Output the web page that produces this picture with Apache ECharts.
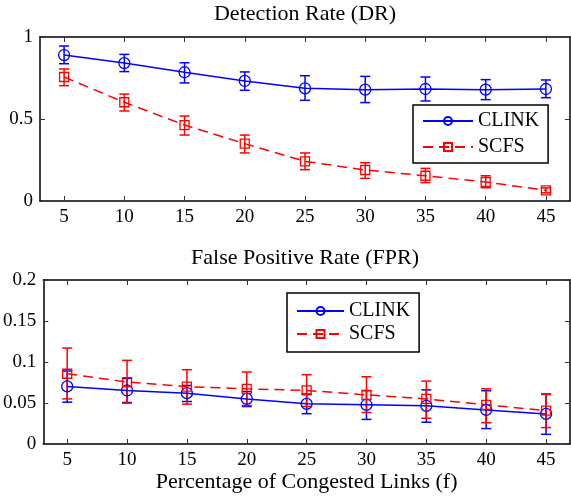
<!DOCTYPE html>
<html>
<head>
  <meta charset="utf-8" />
  <title>DR / FPR</title>
  <script src="https://cdn.jsdelivr.net/npm/echarts@6/dist/echarts.min.js"></script>
  <style>
    html, body { margin: 0; padding: 0; background: #fff; }
  </style>
</head>
<body>
<div id="main" style="width: 571px;height:500px;"></div>
<script type="text/javascript">
  // x positions (percentage of congested links)
  var xValues = [5, 10, 15, 20, 25, 30, 35, 40, 45];
  var xTicks = [5, 10, 15, 20, 25, 30, 35, 40, 45];

  // detection rate
  var drClink = [0.89, 0.841, 0.785, 0.732, 0.687, 0.679, 0.683, 0.679, 0.683];
  var drClinkLo = [0.837, 0.789, 0.72, 0.675, 0.614, 0.6, 0.61, 0.618, 0.63];
  var drClinkHi = [0.945, 0.894, 0.843, 0.787, 0.764, 0.76, 0.756, 0.74, 0.738];
  var drScfs = [0.756, 0.602, 0.463, 0.35, 0.242, 0.189, 0.154, 0.116, 0.065];
  var drScfsLo = [0.703, 0.549, 0.402, 0.293, 0.191, 0.138, 0.112, 0.081, 0.05];
  var drScfsHi = [0.805, 0.652, 0.518, 0.402, 0.293, 0.234, 0.199, 0.154, 0.08];

  // false positive rate
  var fprClink = [0.0702, 0.0653, 0.062, 0.055, 0.049, 0.0478, 0.0465, 0.0416, 0.0367];
  var fprClinkLo = [0.051, 0.0506, 0.0518, 0.0457, 0.037, 0.030, 0.0265, 0.0188, 0.0118];
  var fprClinkHi = [0.089, 0.080, 0.0714, 0.064, 0.061, 0.065, 0.066, 0.065, 0.061];
  var fprScfs = [0.0857, 0.0755, 0.070, 0.0673, 0.0653, 0.060, 0.055, 0.0478, 0.0408];
  var fprScfsLo = [0.055, 0.0498, 0.0486, 0.047, 0.0457, 0.0384, 0.0314, 0.026, 0.02];
  var fprScfsHi = [0.117, 0.102, 0.0906, 0.0878, 0.0845, 0.082, 0.0767, 0.0673, 0.0604];

  var FONT = 'Liberation Serif';
  var BLUE = '#0000ff';
  var RED = '#ff0000';

  function pairs(ys) {
    return xValues.map(function (x, i) { return [x, ys[i]]; });
  }
  function bars(lo, hi) {
    return xValues.map(function (x, i) { return [x, lo[i], hi[i]]; });
  }

  // error bars drawn with the axes' own coord()
  function errorSeries(name, idx, lo, hi, color) {
    return {
      name: name + ' err',
      type: 'custom',
      xAxisIndex: idx,
      yAxisIndex: idx,
      data: bars(lo, hi),
      encode: { x: 0, y: [1, 2] },
      silent: true,
      renderItem: function (params, api) {
        var x = api.value(0);
        var a = api.coord([x, api.value(1)]);
        var b = api.coord([x, api.value(2)]);
        var w = 5;
        var st = { stroke: color, lineWidth: 1.5, fill: null };
        return {
          type: 'group',
          children: [
            { type: 'line', shape: { x1: a[0], y1: a[1], x2: b[0], y2: b[1] }, style: st },
            { type: 'line', shape: { x1: a[0] - w, y1: a[1], x2: a[0] + w, y2: a[1] }, style: st },
            { type: 'line', shape: { x1: b[0] - w, y1: b[1], x2: b[0] + w, y2: b[1] }, style: st }
          ]
        };
      }
    };
  }

  function lineSeries(name, idx, ys, color, symbol, size, dashed) {
    return {
      name: name,
      type: 'line',
      xAxisIndex: idx,
      yAxisIndex: idx,
      data: pairs(ys),
      symbol: symbol,
      symbolSize: size,
      showAllSymbol: true,
      color: color,
      lineStyle: { color: color, width: 1.5, type: dashed ? [10, 6] : 'solid' },
      itemStyle: { color: 'rgba(0,0,0,0)', borderColor: color, borderWidth: 1.3 },
      emphasis: { disabled: true },
      z: 3
    };
  }

  function xAxisPair(grid) {
    var base = {
      type: 'value', gridIndex: grid, min: 3, max: 47,
      splitLine: { show: false },
      axisLine: { show: true, onZero: false, lineStyle: { color: '#000', width: 1.5 } },
      axisTick: { show: true, inside: true, length: 5, customValues: xTicks, lineStyle: { color: '#333', width: 1 } }
    };
    var bottom = Object.assign({}, base, {
      position: 'bottom',
      axisLabel: { show: true, customValues: xTicks, margin: 7, color: '#000', fontFamily: FONT, fontSize: 19 }
    });
    var top = Object.assign({}, base, {
      position: 'top',
      axisLabel: { show: false }
    });
    return [bottom, top];
  }

  function yAxisPair(grid, max, interval) {
    var base = {
      type: 'value', gridIndex: grid, min: 0, max: max, interval: interval,
      splitLine: { show: false },
      axisLine: { show: true, onZero: false, lineStyle: { color: '#000', width: 1.5 } },
      axisTick: { show: true, inside: true, length: 5, lineStyle: { color: '#333', width: 1 } }
    };
    var left = Object.assign({}, base, {
      position: 'left',
      axisLabel: { show: true, margin: 7, color: '#000', fontFamily: FONT, fontSize: 19 }
    });
    var right = Object.assign({}, base, {
      position: 'right',
      axisLabel: { show: false }
    });
    return [left, right];
  }

  var xs = xAxisPair(0).concat(xAxisPair(1));
  xs[2].name = 'Percentage of Congested Links (f)';
  xs[2].nameLocation = 'middle';
  xs[2].nameGap = 26;
  xs[2].nameTextStyle = { color: '#000', fontFamily: FONT, fontSize: 22 };
  var ys = yAxisPair(0, 1, 0.5).concat(yAxisPair(1, 0.2, 0.05));

  var legendText = { color: '#000', fontFamily: FONT, fontSize: 20 };

  var chartDom = document.getElementById('main');
  var myChart = echarts.init(chartDom);
  var option = {
    animation: false,
    backgroundColor: '#fff',
    title: [
      { text: 'Detection Rate (DR)', left: 305, textAlign: 'center', top: 3, padding: 0,
        textStyle: { color: '#000', fontFamily: FONT, fontSize: 22, fontWeight: 'normal' } },
      { text: 'False Positive Rate (FPR)', left: 305, textAlign: 'center', top: 247, padding: 0,
        textStyle: { color: '#000', fontFamily: FONT, fontSize: 22, fontWeight: 'normal' } }
    ],
    grid: [
      { left: 40, right: 1, top: 37, height: 164 },
      { left: 40, right: 1, top: 280, height: 164 }
    ],
    legend: [
      { left: 413, top: 105, orient: 'vertical', padding: [6, 9, 6, 9], itemGap: 6,
        itemWidth: 50, itemHeight: 10, textStyle: legendText,
        borderColor: '#000', borderWidth: 1.5, backgroundColor: '#fff',
        selectedMode: false, data: ['CLINK', 'SCFS'] },
      { left: 287, top: 293, orient: 'vertical', padding: [8, 9, 8, 9], itemGap: 3,
        itemWidth: 47, itemHeight: 10, textStyle: legendText,
        borderColor: '#000', borderWidth: 1.5, backgroundColor: '#fff',
        selectedMode: false, data: ['CLINK', 'SCFS'] }
    ],
    xAxis: xs,
    yAxis: ys,
    series: [
      errorSeries('CLINK', 0, drClinkLo, drClinkHi, BLUE),
      lineSeries('CLINK', 0, drClink, BLUE, 'circle', 11, false),
      errorSeries('SCFS', 0, drScfsLo, drScfsHi, RED),
      lineSeries('SCFS', 0, drScfs, RED, 'rect', 9, true),
      errorSeries('CLINK', 2, fprClinkLo, fprClinkHi, BLUE),
      lineSeries('CLINK', 2, fprClink, BLUE, 'circle', 11, false),
      errorSeries('SCFS', 2, fprScfsLo, fprScfsHi, RED),
      lineSeries('SCFS', 2, fprScfs, RED, 'rect', 9, true)
    ]
  };

  option && myChart.setOption(option);
</script>
</body>
</html>
